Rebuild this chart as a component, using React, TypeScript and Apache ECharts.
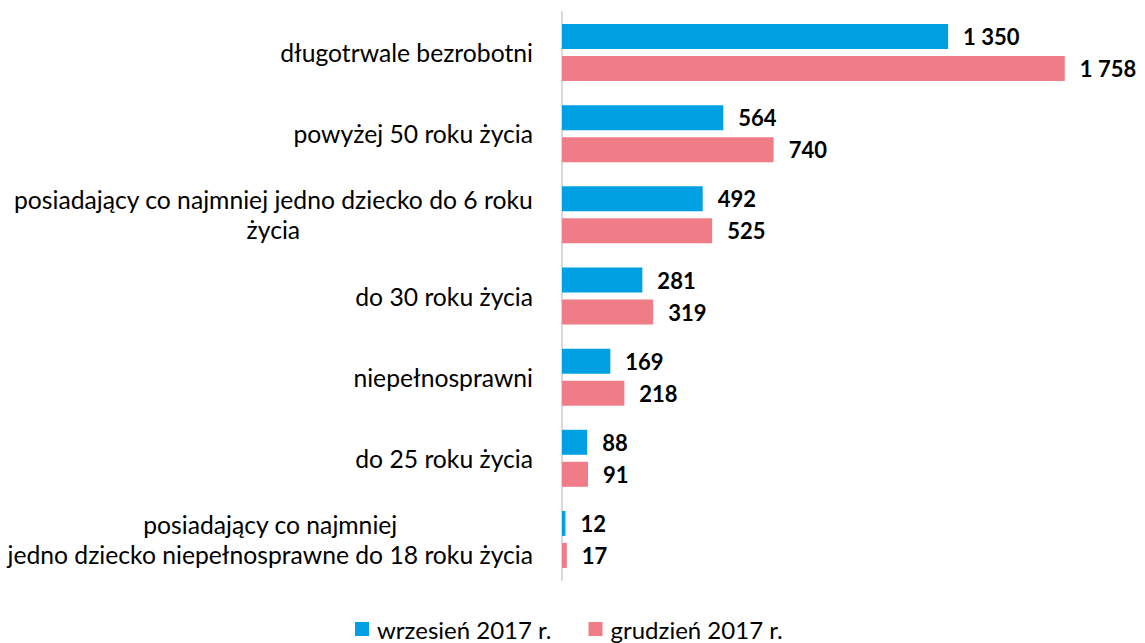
import React, { useEffect, useRef } from "react";
import * as echarts from "echarts";

const categories = [
  "długotrwale bezrobotni",
  "powyżej 50 roku życia",
  "posiadający co najmniej jedno dziecko do 6 roku\nżycia",
  "do 30 roku życia",
  "niepełnosprawni",
  "do 25 roku życia",
  "posiadający co najmniej\njedno dziecko niepełnosprawne do 18 roku życia",
];
const seriesNames = ["wrzesień 2017 r.", "grudzień 2017 r."];
const septValues = [1350, 564, 492, 281, 169, 88, 12];
const decValues = [1758, 740, 525, 319, 218, 91, 17];
const colors = ["#00A0E3", "#F07C87"];

const FONT = "Lato, 'Noto Sans', sans-serif";

const fmt = (v: number) => String(v).replace(/\B(?=(\d{3})+(?!\d))/g, " ");

export default function App() {
  const ref = useRef<HTMLDivElement>(null);
  useEffect(() => {
    if (!ref.current) return;
    const chart = echarts.init(ref.current, undefined, { renderer: "svg" });
    const label = {
      show: true,
      position: "right",
      distance: 15,
      formatter: (p: any) => fmt(p.value),
      fontFamily: FONT,
      fontSize: 22,
      fontWeight: "bold",
      color: "#000",
    };
    chart.setOption({
      animation: false,
      textStyle: { fontFamily: FONT },
      grid: { left: 562, right: 11, top: 12, bottom: 63, containLabel: false },
      xAxis: {
        type: "value",
        min: 0,
        max: 2000,
        show: false,
        splitLine: { show: false },
      },
      yAxis: {
        type: "category",
        data: categories,
        inverse: true,
        axisLine: { show: true, lineStyle: { color: "#d9d9d9", width: 2 } },
        axisTick: { show: false },
        axisLabel: {
          margin: 29,
          color: "#000",
          fontFamily: FONT,
          fontSize: 24.7,
          lineHeight: 30,
          formatter: (v: string) =>
            v
              .split("\n")
              .map((l) => `{c|${l}}`)
              .join("\n"),
          rich: {
            c: {
              align: "center",
              fontFamily: FONT,
              fontSize: 24.7,
              lineHeight: 30,
              color: "#000",
            },
          },
        },
      },
      legend: {
        bottom: -3,
        left: 350,
        itemWidth: 14,
        itemHeight: 14,
        itemGap: 37,
        icon: "rect",
        textStyle: { fontFamily: FONT, fontSize: 24, color: "#000", padding: [0, 0, 0, 3] },
        data: seriesNames,
      },
      series: [
        {
          name: seriesNames[0],
          type: "bar",
          data: septValues,
          barWidth: 25,
          barGap: "28%",
          itemStyle: { color: colors[0] },
          label,
        },
        {
          name: seriesNames[1],
          type: "bar",
          data: decValues,
          barWidth: 25,
          barGap: "28%",
          itemStyle: { color: colors[1] },
          label,
        },
      ],
    });
    return () => chart.dispose();
  }, []);
  return (
    <div
      ref={ref}
      style={{ position: "fixed", left: 0, top: 0, width: 1145, height: 643, background: "#fff" }}
    />
  );
}
